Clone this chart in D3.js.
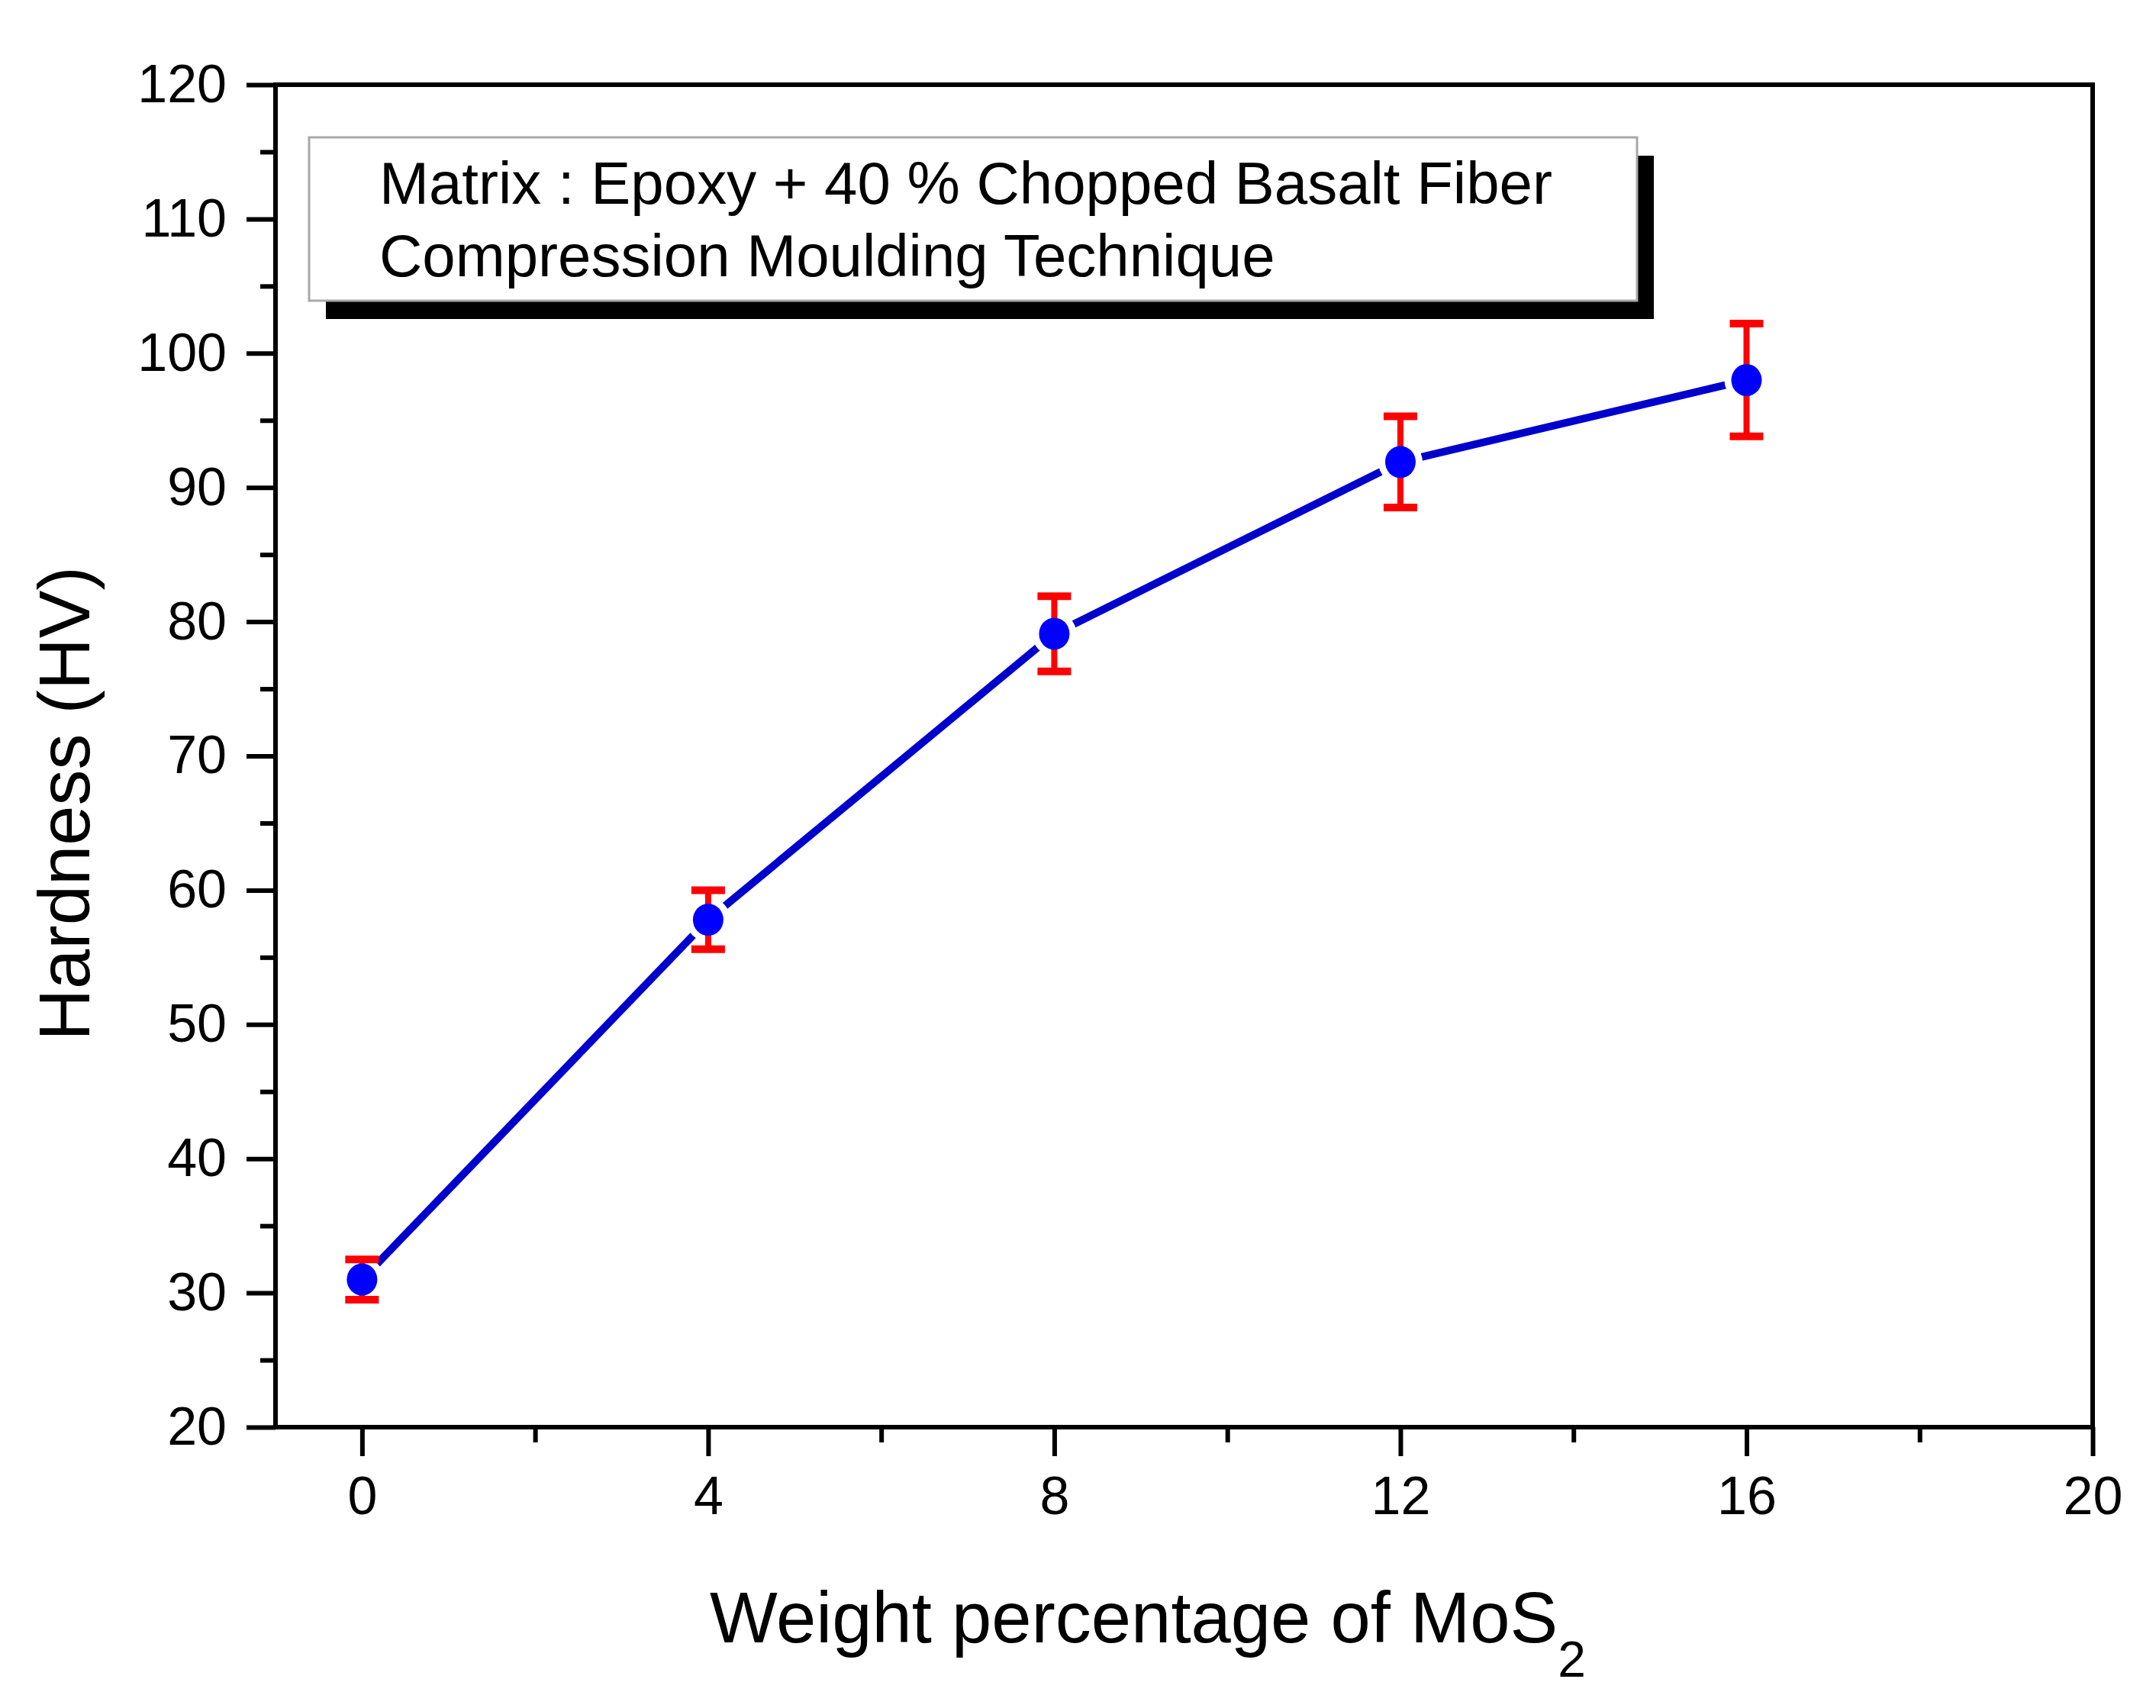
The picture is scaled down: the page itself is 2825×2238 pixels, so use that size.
<!DOCTYPE html>
<html>
<head>
<meta charset="utf-8">
<script src="https://cdn.jsdelivr.net/npm/d3@7"></script>
<style>
  html, body { margin: 0; padding: 0; background: #ffffff; }
  svg { display: block; }
  text { font-family: "Liberation Sans", Arial, sans-serif; fill: #000; }
</style>
</head>
<body>
<svg id="chart" width="2825" height="2238"></svg>
<script>
// ---- data ----
const mos2Percent = [0, 4, 8, 12, 16];
const hardness    = [31, 57.8, 79.1, 91.9, 98.0];
const hardnessErr = [1.5, 2.2, 2.8, 3.4, 4.2];
const xMajorTicks = [0, 4, 8, 12, 16, 20];
const xMinorTicks = [2, 6, 10, 14, 18];
const yMajorTicks = [20, 30, 40, 50, 60, 70, 80, 90, 100, 110, 120];
const yMinorTicks = [25, 35, 45, 55, 65, 75, 85, 95, 105, 115];
const legendLines = ["Matrix : Epoxy + 40 % Chopped Basalt Fiber", "Compression Moulding Technique"];
const xTitle = "Weight percentage of MoS";
const xTitleSub = "2";
const yTitle = "Hardness (HV)";

(function () {
const svg = d3.select("#chart");
svg.append("rect").attr("width", 2825).attr("height", 2238).attr("fill", "#fff");

const pL = 361, pR = 2742, pT = 111, pB = 1870;
const x = d3.scaleLinear().domain([-1, 20]).range([pL, pR]);
const y = d3.scaleLinear().domain([20, 120]).range([pB, pT]);

const axisW = 6;
const FONT = "Liberation Sans, Arial, sans-serif";

// x axis (bottom)
const gx = svg.append("g").attr("transform", `translate(0,${pB})`);
gx.call(d3.axisBottom(x).tickValues(xMinorTicks).tickSize(20).tickFormat(""));
gx.select(".domain").remove();
const gx2 = svg.append("g").attr("transform", `translate(0,${pB})`);
gx2.call(d3.axisBottom(x).tickValues(xMajorTicks).tickSize(38).tickPadding(26).tickFormat(d3.format("d")));
gx2.select(".domain").remove();
gx2.selectAll("text").attr("font-size", 70).attr("font-family", FONT).attr("fill", "#000");

// y axis (left)
const gy = svg.append("g").attr("transform", `translate(${pL},0)`);
gy.call(d3.axisLeft(y).tickValues(yMinorTicks).tickSize(20).tickFormat(""));
gy.select(".domain").remove();
const gy2 = svg.append("g").attr("transform", `translate(${pL},0)`);
gy2.call(d3.axisLeft(y).tickValues(yMajorTicks).tickSize(38).tickPadding(26).tickFormat(d3.format("d")));
gy2.select(".domain").remove();
gy2.selectAll("text").attr("font-size", 70).attr("font-family", FONT).attr("fill", "#000");

svg.selectAll(".tick line").attr("stroke", "#000").attr("stroke-width", axisW);

// frame
svg.append("rect")
  .attr("x", pL).attr("y", pT)
  .attr("width", pR - pL).attr("height", pB - pT)
  .attr("fill", "none").attr("stroke", "#000").attr("stroke-width", axisW);

// legend box with shadow
const lb = {x: 405, y: 180, w: 1740, h: 214};
svg.append("rect").attr("x", lb.x + 22).attr("y", lb.y + 24)
  .attr("width", lb.w).attr("height", lb.h).attr("fill", "#000");
svg.append("rect").attr("x", lb.x).attr("y", lb.y)
  .attr("width", lb.w).attr("height", lb.h)
  .attr("fill", "#fff").attr("stroke", "#a8a8a8").attr("stroke-width", 3);
svg.selectAll(".legtxt").data(legendLines).enter().append("text")
  .attr("class", "legtxt")
  .attr("x", 497).attr("y", (d, i) => 267 + i * 95)
  .attr("font-size", 78)
  .text(d => d);

// data
const pts = mos2Percent.map((v, i) => ({x: v, y: hardness[i], e: hardnessErr[i]}));

const line = d3.line().x(d => x(d.x)).y(d => y(d.y));
svg.append("path").datum(pts)
  .attr("d", line).attr("fill", "none")
  .attr("stroke", "#0000cc").attr("stroke-width", 10).attr("stroke-linejoin", "round");

// gaps around markers
svg.selectAll(".gap").data(pts).enter().append("circle")
  .attr("cx", d => x(d.x)).attr("cy", d => y(d.y)).attr("r", 29).attr("fill", "#fff");

// error bars
const eb = svg.append("g").attr("stroke", "#ff0000");
eb.selectAll(".ev").data(pts).enter().append("line")
  .attr("x1", d => x(d.x)).attr("x2", d => x(d.x))
  .attr("y1", d => y(d.y - d.e)).attr("y2", d => y(d.y + d.e))
  .attr("stroke-width", 8);
eb.selectAll(".cu").data(pts).enter().append("line")
  .attr("x1", d => x(d.x) - 22).attr("x2", d => x(d.x) + 22)
  .attr("y1", d => y(d.y + d.e)).attr("y2", d => y(d.y + d.e))
  .attr("stroke-width", 10);
eb.selectAll(".cl").data(pts).enter().append("line")
  .attr("x1", d => x(d.x) - 22).attr("x2", d => x(d.x) + 22)
  .attr("y1", d => y(d.y - d.e)).attr("y2", d => y(d.y - d.e))
  .attr("stroke-width", 10);

// markers
svg.selectAll(".mk").data(pts).enter().append("ellipse")
  .attr("cx", d => x(d.x)).attr("cy", d => y(d.y))
  .attr("rx", 20).attr("ry", 21).attr("fill", "#0000ff");

// axis titles
const xt = svg.append("text").attr("x", 930).attr("y", 2152).attr("font-size", 94);
xt.append("tspan").text(xTitle);
xt.append("tspan").attr("font-size", 66).attr("dy", 45).text(xTitleSub);

svg.append("text")
  .attr("transform", "translate(117,1053) rotate(-90)")
  .attr("text-anchor", "middle")
  .attr("font-size", 94)
  .text(yTitle);
})();
</script>
</body>
</html>
